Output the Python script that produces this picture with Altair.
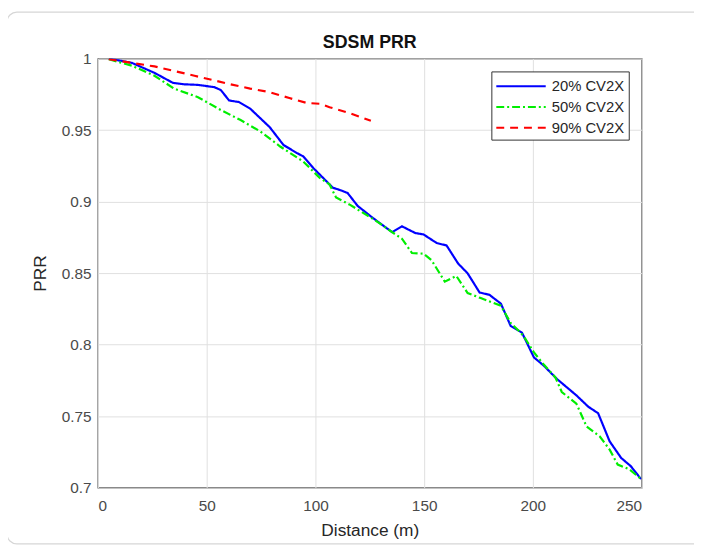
import altair as alt
import pandas as pd

series_names = ["20% CV2X", "50% CV2X", "90% CV2X"]

d20 = [5, 15.6, 26, 34.5, 39.8, 46, 53.5, 56.5, 60.3, 64.8, 70, 79, 85.3, 91.4, 94.4, 99,
       108, 111.8, 114.8, 119.4, 126, 135.3, 139.8, 145.9, 149.7, 155.8, 160.3, 165.6, 170,
       175.5, 180, 185.3, 189.8, 195, 200.5, 205, 211, 220, 225.5, 230, 235.3, 240.6, 245, 249.7]
v20 = [1.0, 0.997, 0.990, 0.983, 0.982, 0.9816, 0.980, 0.978, 0.9707, 0.9696, 0.965, 0.952, 0.9396,
       0.934, 0.9316, 0.9235, 0.9097, 0.9078, 0.906, 0.897, 0.889, 0.8786, 0.8827, 0.878, 0.877,
       0.871, 0.8693, 0.8567, 0.8498, 0.8364, 0.8348, 0.8286, 0.813, 0.8083, 0.791, 0.7853, 0.776,
       0.7645, 0.7565, 0.752, 0.7323, 0.7207, 0.715, 0.706]

d50 = [5, 15.6, 26, 35, 46, 56.5, 65.6, 74.7, 83.8, 94.4, 102, 106.5, 109.5, 115.6, 127.7, 135.3,
       139.8, 144.4, 149.7, 153.4, 159.5, 164.8, 170, 176, 185.3, 189.8, 194.4, 196.7, 200.5, 205,
       210.3, 213.3, 220, 224.7, 230.8, 235.3, 239, 244.4, 249.7]
v50 = [0.9995, 0.995, 0.988, 0.979, 0.973, 0.964, 0.957, 0.949, 0.9385, 0.928, 0.9166, 0.912, 0.9028,
       0.898, 0.8867, 0.8786, 0.874, 0.864, 0.8636, 0.859, 0.844, 0.848, 0.836, 0.8325, 0.8272,
       0.815, 0.8083, 0.8037, 0.7945, 0.786, 0.7772, 0.7668, 0.7587, 0.7427, 0.7357, 0.7265,
       0.7161, 0.7127, 0.706]

d90 = [5, 26, 44.4, 61, 70, 79, 88, 96, 102, 106.5, 115.5, 125.5]
v90 = [0.9995, 0.9945, 0.988, 0.982, 0.979, 0.9765, 0.9724, 0.969, 0.9684, 0.966, 0.962, 0.9565]

x_ticks = [0, 50, 100, 150, 200, 250]
y_ticks = [0.7, 0.75, 0.8, 0.85, 0.9, 0.95, 1.0]

rows = []
for name, ds, vs in zip(series_names, [d20, d50, d90], [v20, v50, v90]):
    for i, (d, v) in enumerate(zip(ds, vs)):
        rows.append({"series": name, "distance": d, "prr": v, "order": i})
df = pd.DataFrame(rows)

FONT = "Liberation Sans"

frame = alt.Chart(pd.DataFrame({"k": [0]})).mark_rect(
    fill="transparent", stroke="#d6d6d6", strokeWidth=1.2, cornerRadius=10
).encode(
    x=alt.value(-92), x2=alt.value(640), y=alt.value(-47), y2=alt.value(491)
)

lines = alt.Chart(df).mark_line(strokeWidth=2.2, clip=True).encode(
    x=alt.X("distance:Q",
            scale=alt.Scale(domain=[0, 250], nice=False),
            axis=alt.Axis(values=x_ticks, title="Distance (m)", grid=True, ticks=False,
                          labelPadding=11, titlePadding=8, domain=False)),
    y=alt.Y("prr:Q",
            scale=alt.Scale(domain=[0.7, 1.0], nice=False, zero=False),
            axis=alt.Axis(values=y_ticks, format=".2~f", title="PRR", grid=True, ticks=False,
                          labelPadding=7, titlePadding=12, domain=False)),
    color=alt.Color("series:N",
                    scale=alt.Scale(domain=series_names, range=["#0000ff", "#00ee00", "#ff0000"]),
                    legend=alt.Legend(title=None, orient="none", legendX=398, legendY=13,
                                      symbolType="M-1,0L4,0", symbolSize=400,
                                      symbolStrokeWidth=2,
                                      labelFont=FONT, labelFontSize=15, labelColor="#262626",
                                      strokeColor="#333333", fillColor="white", padding=4,
                                      rowPadding=2, labelOffset=35, cornerRadius=0)),
    strokeDash=alt.StrokeDash("series:N",
                              scale=alt.Scale(domain=series_names,
                                              range=[[1, 0], [8, 3, 2, 3], [8, 6]]),
                              legend=None),
    order="order:Q",
)

chart = alt.layer(frame, lines).properties(
    width=550, height=434,
    title=alt.TitleParams("SDSM PRR", font=FONT, fontSize=18, fontWeight="bold",
                          color="#111111", offset=8, anchor="middle", frame="group", dy=49),
    autosize=alt.AutoSizeParams(type="none"),
    padding={"left": 91, "top": 48, "right": 53, "bottom": 60},
    background="white",
).configure_view(
    stroke="#444444", strokeWidth=1.3
).configure_axis(
    gridColor="#e0e0e0", gridWidth=1,
    labelFont=FONT, labelFontSize=15.5, labelColor="#4a4a4a",
    titleFont=FONT, titleFontSize=17.5, titleFontWeight="normal", titleColor="#262626",
)

chart.save("out.html", embed_options={"renderer": "svg", "actions": False})
